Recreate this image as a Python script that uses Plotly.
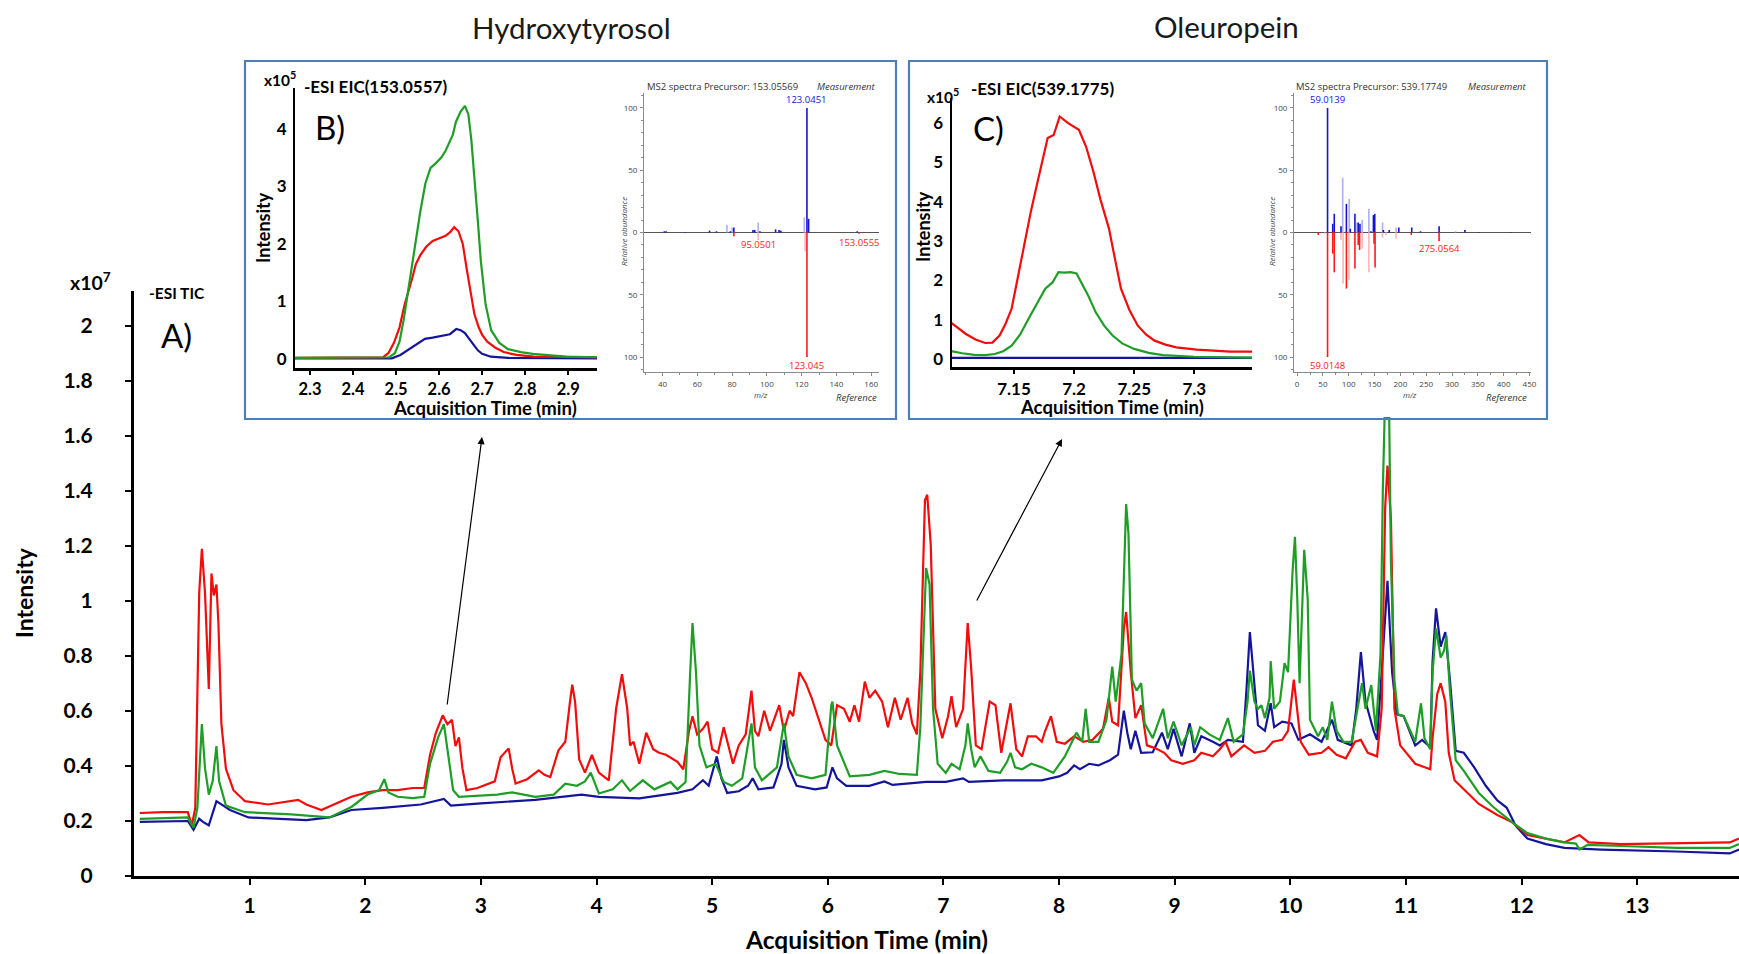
import plotly.graph_objects as go

W, H = 1739, 954
def fx(p): return p / W
def fy(p): return 1 - p / H

# ---------------- Main TIC (x10^7) ----------------
red_t = [0.05,0.25,0.465,0.50,0.53,0.564,0.587,0.614,0.647,0.67,0.69,0.713,0.73,0.756,0.795,0.86,0.96,1.16,1.42,1.49,1.62,1.75,1.88,2.02,2.15,2.28,2.41,2.51,2.56,2.61,2.67,2.71,2.75,2.78,2.81,2.84,2.875,2.97,3.07,3.12,3.17,3.24,3.27,3.30,3.40,3.50,3.55,3.60,3.67,3.73,3.77,3.79,3.815,3.85,3.90,3.96,4.02,4.106,4.17,4.22,4.265,4.29,4.32,4.37,4.43,4.49,4.54,4.60,4.70,4.75,4.80,4.83,4.87,4.92,4.96,5.00,5.05,5.10,5.18,5.23,5.29,5.34,5.37,5.40,5.45,5.50,5.58,5.62,5.67,5.70,5.755,5.81,5.86,5.93,5.98,6.03,6.08,6.14,6.19,6.23,6.27,6.32,6.36,6.41,6.47,6.52,6.58,6.63,6.69,6.73,6.77,6.80,6.84,6.86,6.89,6.93,6.99,7.04,7.07,7.11,7.17,7.21,7.24,7.28,7.33,7.40,7.45,7.50,7.58,7.63,7.68,7.73,7.80,7.85,7.88,7.93,7.98,8.05,8.13,8.21,8.29,8.38,8.43,8.46,8.51,8.56,8.58,8.62,8.66,8.71,8.76,8.83,8.91,8.97,9.07,9.17,9.23,9.33,9.39,9.44,9.49,9.60,9.69,9.78,9.85,9.93,9.98,10.03,10.06,10.09,10.16,10.27,10.33,10.40,10.48,10.56,10.61,10.67,10.75,10.79,10.82,10.84,10.87,10.90,10.95,11.08,11.21,11.23,11.27,11.30,11.34,11.37,11.42,11.50,11.63,11.79,11.92,12.05,12.21,12.37,12.50,12.58,12.86,13.34,13.80,13.88]
red_v = [0.229,0.232,0.232,0.184,0.248,1.03,1.19,1.03,0.68,1.10,1.02,1.06,0.92,0.552,0.39,0.312,0.272,0.26,0.277,0.26,0.24,0.264,0.288,0.304,0.312,0.312,0.32,0.32,0.44,0.52,0.584,0.552,0.568,0.472,0.504,0.392,0.312,0.32,0.336,0.344,0.432,0.464,0.392,0.336,0.352,0.384,0.368,0.36,0.456,0.488,0.632,0.696,0.632,0.424,0.376,0.44,0.376,0.348,0.61,0.734,0.61,0.475,0.488,0.408,0.521,0.461,0.448,0.441,0.415,0.388,0.528,0.581,0.515,0.535,0.561,0.461,0.448,0.541,0.408,0.475,0.515,0.674,0.528,0.508,0.601,0.528,0.621,0.528,0.601,0.581,0.741,0.701,0.648,0.555,0.495,0.475,0.621,0.608,0.561,0.621,0.561,0.707,0.648,0.674,0.634,0.541,0.648,0.568,0.648,0.555,0.515,0.741,1.366,1.386,1.206,0.608,0.501,0.581,0.654,0.541,0.608,0.92,0.754,0.475,0.461,0.634,0.621,0.448,0.628,0.461,0.435,0.508,0.508,0.488,0.528,0.581,0.488,0.481,0.508,0.488,0.495,0.535,0.648,0.561,0.548,0.90,0.96,0.741,0.574,0.621,0.475,0.465,0.448,0.421,0.408,0.421,0.448,0.435,0.461,0.488,0.435,0.475,0.448,0.455,0.488,0.495,0.528,0.714,0.608,0.488,0.441,0.448,0.468,0.441,0.428,0.488,0.495,0.448,0.435,0.608,1.339,1.492,1.299,0.608,0.475,0.408,0.388,0.501,0.661,0.701,0.634,0.448,0.348,0.315,0.262,0.222,0.195,0.149,0.136,0.122,0.149,0.122,0.116,0.118,0.122,0.136]

green_t = [0.05,0.25,0.465,0.515,0.548,0.587,0.614,0.647,0.68,0.713,0.736,0.795,0.96,1.36,1.69,1.88,2.02,2.12,2.165,2.20,2.28,2.41,2.51,2.56,2.63,2.68,2.72,2.76,2.81,3.14,3.27,3.47,3.63,3.73,3.83,3.90,3.95,4.02,4.14,4.22,4.29,4.40,4.50,4.57,4.64,4.70,4.77,4.81,4.83,4.86,4.89,4.95,5.03,5.10,5.17,5.26,5.31,5.34,5.37,5.43,5.56,5.62,5.66,5.73,5.86,5.98,6.03,6.04,6.08,6.13,6.19,6.36,6.49,6.62,6.77,6.80,6.83,6.85,6.88,6.91,6.95,7.02,7.07,7.14,7.19,7.21,7.24,7.27,7.32,7.39,7.49,7.55,7.58,7.62,7.68,7.76,7.85,7.95,8.05,8.15,8.20,8.23,8.26,8.34,8.41,8.46,8.49,8.54,8.58,8.60,8.63,8.67,8.71,8.74,8.81,8.90,8.94,8.99,9.06,9.14,9.17,9.22,9.30,9.39,9.46,9.51,9.59,9.63,9.65,9.69,9.72,9.75,9.78,9.82,9.83,9.86,9.91,9.95,9.98,10.02,10.04,10.06,10.08,10.10,10.12,10.15,10.17,10.24,10.28,10.32,10.36,10.40,10.46,10.53,10.57,10.62,10.65,10.70,10.74,10.78,10.80,10.815,10.855,10.87,10.90,10.93,10.98,11.05,11.08,11.13,11.16,11.21,11.23,11.26,11.30,11.33,11.35,11.38,11.43,11.50,11.63,11.76,11.84,11.92,12.05,12.21,12.37,12.47,12.50,12.57,12.86,13.34,13.80,13.88]
green_v = [0.208,0.21,0.213,0.176,0.248,0.552,0.392,0.296,0.344,0.472,0.344,0.256,0.232,0.224,0.213,0.251,0.296,0.312,0.352,0.304,0.288,0.283,0.288,0.408,0.504,0.552,0.424,0.312,0.288,0.296,0.304,0.288,0.296,0.336,0.328,0.344,0.376,0.30,0.315,0.348,0.309,0.348,0.315,0.328,0.342,0.315,0.342,0.741,0.92,0.741,0.475,0.395,0.408,0.342,0.328,0.355,0.475,0.555,0.395,0.348,0.395,0.555,0.435,0.368,0.355,0.368,0.621,0.634,0.475,0.421,0.362,0.368,0.382,0.371,0.368,0.541,0.874,1.12,1.06,0.608,0.408,0.375,0.408,0.388,0.475,0.555,0.461,0.395,0.435,0.382,0.375,0.415,0.448,0.395,0.388,0.408,0.395,0.375,0.435,0.521,0.488,0.608,0.488,0.488,0.568,0.761,0.634,0.807,1.352,1.246,0.714,0.674,0.701,0.555,0.501,0.608,0.501,0.561,0.475,0.541,0.475,0.541,0.515,0.495,0.574,0.488,0.515,0.634,0.747,0.634,0.608,0.621,0.574,0.648,0.781,0.608,0.634,0.774,0.741,1.113,1.233,1.007,0.701,0.94,1.186,1.007,0.568,0.508,0.541,0.495,0.634,0.528,0.488,0.488,0.581,0.701,0.608,0.694,0.528,0.807,1.406,1.665,1.665,1.14,0.714,0.588,0.581,0.515,0.488,0.628,0.501,0.461,0.741,0.90,0.794,0.82,0.874,0.674,0.421,0.382,0.302,0.249,0.222,0.195,0.156,0.136,0.122,0.118,0.096,0.113,0.109,0.102,0.102,0.116]

blue_t = [0.05,0.465,0.515,0.564,0.597,0.647,0.713,0.83,0.99,1.49,1.69,1.88,2.15,2.48,2.68,2.74,3.00,3.47,3.87,4.02,4.37,4.70,4.83,4.92,4.97,5.04,5.08,5.13,5.23,5.31,5.35,5.40,5.53,5.60,5.62,5.66,5.73,5.89,5.99,6.04,6.08,6.16,6.36,6.49,6.56,6.85,7.02,7.17,7.22,7.52,7.85,8.00,8.07,8.13,8.18,8.26,8.34,8.44,8.51,8.56,8.59,8.62,8.66,8.71,8.81,8.89,8.94,8.99,9.06,9.13,9.17,9.23,9.33,9.39,9.46,9.59,9.62,9.65,9.68,9.72,9.78,9.83,9.86,9.93,10.01,10.07,10.17,10.27,10.36,10.41,10.53,10.57,10.61,10.65,10.72,10.75,10.79,10.84,10.88,10.92,10.98,11.08,11.14,11.21,11.23,11.26,11.30,11.34,11.38,11.43,11.50,11.59,11.69,11.79,11.87,11.95,12.05,12.21,12.37,12.69,13.34,13.80,13.88]
blue_v = [0.197,0.20,0.168,0.208,0.197,0.184,0.272,0.24,0.213,0.203,0.213,0.24,0.248,0.26,0.28,0.256,0.264,0.277,0.296,0.288,0.282,0.302,0.315,0.348,0.328,0.435,0.355,0.302,0.308,0.328,0.355,0.315,0.322,0.408,0.495,0.395,0.328,0.315,0.322,0.395,0.355,0.328,0.328,0.344,0.331,0.342,0.342,0.355,0.342,0.348,0.348,0.362,0.375,0.402,0.388,0.408,0.402,0.421,0.441,0.601,0.521,0.461,0.528,0.448,0.45,0.521,0.461,0.535,0.435,0.555,0.448,0.508,0.488,0.475,0.495,0.488,0.674,0.887,0.741,0.548,0.528,0.628,0.541,0.561,0.555,0.495,0.515,0.488,0.568,0.495,0.475,0.608,0.814,0.634,0.528,0.495,0.741,1.073,0.741,0.588,0.581,0.475,0.495,0.468,0.781,0.973,0.834,0.887,0.714,0.455,0.448,0.395,0.328,0.275,0.249,0.182,0.136,0.116,0.102,0.096,0.089,0.082,0.096]

main_xticks = [1,2,3,4,5,6,7,8,9,10,11,12,13]
main_yticks = [0,0.2,0.4,0.6,0.8,1,1.2,1.4,1.6,1.8,2]
main_ylabels = ["0","0.2","0.4","0.6","0.8","1","1.2","1.4","1.6","1.8","2"]

# ---------------- Inset B: EIC 153.0557 (x10^5) ----------------
b_green_t = [2.265,2.40,2.484,2.497,2.508,2.518,2.527,2.541,2.556,2.568,2.58,2.592,2.605,2.615,2.624,2.632,2.639,2.65,2.66,2.668,2.675,2.682,2.69,2.697,2.708,2.721,2.74,2.76,2.79,2.818,2.895,2.967]
b_green_v = [0.02,0.02,0.03,0.1,0.3,0.7,1.15,1.85,2.55,3.05,3.32,3.4,3.5,3.62,3.78,3.9,4.12,4.3,4.4,4.25,3.8,3.2,2.4,1.7,0.95,0.5,0.28,0.17,0.12,0.09,0.04,0.03]
b_red_t = [2.265,2.47,2.482,2.495,2.508,2.52,2.537,2.546,2.556,2.57,2.585,2.60,2.615,2.625,2.635,2.645,2.655,2.664,2.673,2.682,2.692,2.70,2.712,2.73,2.75,2.78,2.82,2.967]
b_red_v = [0.02,0.03,0.1,0.28,0.55,0.95,1.39,1.65,1.8,1.95,2.05,2.1,2.14,2.2,2.29,2.22,2.0,1.57,1.15,0.78,0.55,0.42,0.3,0.2,0.12,0.07,0.04,0.03]
b_blue_t = [2.265,2.49,2.51,2.53,2.55,2.567,2.585,2.605,2.625,2.64,2.65,2.66,2.67,2.68,2.69,2.70,2.72,2.76,2.967]
b_blue_v = [0.01,0.01,0.07,0.17,0.27,0.35,0.37,0.4,0.43,0.52,0.5,0.45,0.36,0.25,0.15,0.09,0.04,0.02,0.01]
b_xticks = [2.3,2.4,2.5,2.6,2.7,2.8,2.9]
b_yticks = [0,1,2,3,4]

# ---------------- Inset C: EIC 539.1775 (x10^5) ----------------
c_red_t = [7.097,7.104,7.11,7.118,7.126,7.132,7.138,7.143,7.148,7.153,7.159,7.164,7.169,7.174,7.178,7.183,7.188,7.195,7.204,7.21,7.216,7.222,7.229,7.234,7.239,7.246,7.253,7.26,7.267,7.276,7.285,7.302,7.33,7.348]
c_red_v = [0.94,0.78,0.64,0.5,0.41,0.42,0.6,0.9,1.28,2.05,2.98,3.75,4.43,5.05,5.62,5.7,6.17,6.0,5.83,5.4,4.77,4.05,3.32,2.55,1.79,1.25,0.85,0.62,0.47,0.37,0.3,0.24,0.19,0.19]
c_green_t = [7.097,7.107,7.117,7.126,7.134,7.141,7.148,7.155,7.162,7.169,7.176,7.182,7.187,7.192,7.197,7.202,7.206,7.212,7.218,7.225,7.232,7.24,7.25,7.262,7.274,7.3,7.348]
c_green_v = [0.21,0.15,0.11,0.1,0.13,0.2,0.34,0.62,1.02,1.42,1.79,1.95,2.21,2.2,2.21,2.18,1.96,1.6,1.19,0.85,0.6,0.4,0.26,0.16,0.1,0.06,0.04]
c_blue_t = [7.097,7.348]
c_blue_v = [0.03,0.03]
c_xticks = [7.15,7.2,7.25,7.3]
c_xlabels = ["7.15","7.2","7.25","7.3"]
c_yticks = [0,1,2,3,4,5,6]

# ---------------- MS2 spectra ----------------
# Hydroxytyrosol, precursor 153.05569
b_meas_mz = [41,42,53,67,71,79,81,92,93,96,105,107,108,124,123.045,152]
b_meas_ab = [1,1,0.5,1.5,1,1,4,2,2,1,2.5,2,1.5,11,100,1]
b_meas_light_mz = [77,80,95,121.5]
b_meas_light_ab = [6,4,8,12]
b_ref_mz = [81,123.045,153]
b_ref_ab = [-3,-100,-1]
b_ref_light_mz = [95,122]
b_ref_light_ab = [-6,-15]

# Oleuropein, precursor 539.17749
c_meas_mz = [59,69,72,85,95.5,103,112,118.4,121.7,143,147.8,150.4,167,178.5,197,222,239,275,325,352,414]
c_meas_ab = [100,7,15,5,23,3,15,8,7,1,14,15,2,2,4,4,1,5,2,0.5,0.5]
c_meas_light_mz = [88.3,101,116,126,139,165.5,191.6,307]
c_meas_light_ab = [44,27,8,10,19,8,4,1]
c_ref_mz = [41,59,69,72,95.5,112,118.4,121,149,151,221,275]
c_ref_ab = [-2,-100,-17,-32,-45,-29,-10,-14,-9,-28,-2,-7]
c_ref_light_mz = [54,85,89,100.5,126,139,165.5,172,191.6]
c_ref_light_ab = [-1,-6,-41,-38,-13,-32,-4,-2,-5]

ms_yticks = [-100,-50,0,50,100]
ms_ylabels = ["100","50","0","50","100"]
b_ms_xticks = [40,60,80,100,120,140,160]
c_ms_xticks = [0,50,100,150,200,250,300,350,400,450]

RED = "#f20c0c"
GREEN = "#1f9e27"
BLUE = "#15159c"
MS_BLUE = "#1414d2"
MS_BLUE_L = "#aab0f2"
MS_RED = "#ff1a1a"
MS_RED_L = "#ffb4b4"
FONT = "Lato"
SFONT = "Open Sans"

def sticks(mz, ab):
    xs, ys = [], []
    for m, a in zip(mz, ab):
        xs += [m, m, None]
        ys += [0, a, None]
    return xs, ys

fig = go.Figure()

def line(x, y, color, xa, ya, w=2.2):
    fig.add_trace(go.Scatter(x=x, y=y, mode="lines", line=dict(color=color, width=w),
                             xaxis=xa, yaxis=ya, showlegend=False, hoverinfo="skip"))

# main
line(blue_t, blue_v, BLUE, "x", "y")
line(red_t, red_v, RED, "x", "y")
line(green_t, green_v, GREEN, "x", "y")
# B
line(b_blue_t, b_blue_v, BLUE, "x2", "y2")
line(b_red_t, b_red_v, RED, "x2", "y2")
line(b_green_t, b_green_v, GREEN, "x2", "y2")
# C
line(c_blue_t, c_blue_v, BLUE, "x3", "y3")
line(c_green_t, c_green_v, GREEN, "x3", "y3")
line(c_red_t, c_red_v, RED, "x3", "y3")
# MS2
for (mz, ab, col, xa, ya) in [
    (b_meas_light_mz, b_meas_light_ab, MS_BLUE_L, "x4", "y4"),
    (b_ref_light_mz, b_ref_light_ab, MS_RED_L, "x4", "y4"),
    (b_meas_mz, b_meas_ab, MS_BLUE, "x4", "y4"),
    (b_ref_mz, b_ref_ab, MS_RED, "x4", "y4"),
    (c_meas_light_mz, c_meas_light_ab, MS_BLUE_L, "x5", "y5"),
    (c_ref_light_mz, c_ref_light_ab, MS_RED_L, "x5", "y5"),
    (c_meas_mz, c_meas_ab, MS_BLUE, "x5", "y5"),
    (c_ref_mz, c_ref_ab, MS_RED, "x5", "y5"),
]:
    xs, ys = sticks(mz, ab)
    line(xs, ys, col, xa, ya, w=1.6)

bold = dict(family=FONT, color="black", weight="bold")

def eic_axes(xdom, ydom, xr, yr, xt, xl, yt, xfs, standoff_x):
    xa = dict(domain=xdom, range=xr, tickvals=xt, ticktext=xl, showline=True, linecolor="black",
              linewidth=2.5, ticks="outside", ticklen=4, tickwidth=1.5, tickcolor="black",
              tickfont=dict(size=xfs, **bold), showgrid=False, zeroline=False, ticklabelstandoff=standoff_x)
    ya = dict(domain=ydom, range=yr, tickvals=yt, ticktext=[str(v) for v in yt], showline=True,
              linecolor="black", linewidth=2, ticks="", tickfont=dict(size=17, **bold),
              showgrid=False, zeroline=False, ticklabelstandoff=3)
    return xa, ya

x2, y2 = eic_axes([fx(295), fx(597)], [fy(368), fy(88)], [2.265, 2.967], [-0.157, 4.71],
                  b_xticks, [str(v) for v in b_xticks], b_yticks, 16.5, 0)
x3, y3 = eic_axes([fx(951.5), fx(1252)], [fy(367), fy(98)], [7.098, 7.348], [-0.2, 6.64],
                  c_xticks, c_xlabels, c_yticks, 17, 1)

def ms_axes(xdom, xr, xt, minor_dt):
    xa = dict(domain=xdom, range=xr, tickvals=xt, ticktext=[str(v) for v in xt], showline=True,
              linecolor="#8a8a8a", linewidth=1, ticks="outside", ticklen=3, tickcolor="#8a8a8a",
              tickfont=dict(size=8, family=SFONT, color="#444"), showgrid=False, zeroline=False,
              minor=dict(dtick=minor_dt, ticks="outside", ticklen=2, tickcolor="#8a8a8a"),
              ticklabelstandoff=1)
    ya = dict(domain=[fy(372), fy(93)], range=[-112, 112], tickvals=ms_yticks, ticktext=ms_ylabels,
              showline=True, linecolor="#8a8a8a", linewidth=1, ticks="outside", ticklen=3,
              tickcolor="#8a8a8a", tickfont=dict(size=8, family=SFONT, color="#444"), showgrid=False,
              zeroline=True, zerolinecolor="#555", zerolinewidth=1.2,
              minor=dict(dtick=10, ticks="outside", ticklen=2, tickcolor="#8a8a8a"), ticklabelstandoff=1)
    return xa, ya

x4, y4 = ms_axes([fx(644), fx(879)], [29.3, 164.5], b_ms_xticks, 10)
x5, y5 = ms_axes([fx(1294), fx(1531)], [-6, 453], c_ms_xticks, 25)

x2.update(anchor="y2"); y2.update(anchor="x2")
x3.update(anchor="y3"); y3.update(anchor="x3")
x4.update(anchor="y4"); y4.update(anchor="x4")
x5.update(anchor="y5"); y5.update(anchor="x5")

fig.update_layout(
    template="none",
    width=W, height=H, margin=dict(l=0, r=0, t=0, b=0),
    paper_bgcolor="white", plot_bgcolor="white",
    font=dict(family=FONT, color="black"),
    xaxis=dict(domain=[fx(134), 1], range=[0, 13.88], tickvals=main_xticks,
               ticktext=[str(v) for v in main_xticks], showline=True, linecolor="black", linewidth=3,
               ticks="outside", ticklen=6, tickwidth=2, tickcolor="black",
               tickfont=dict(size=21, **bold), showgrid=False, zeroline=False, ticklabelstandoff=3),
    yaxis=dict(domain=[fy(876), fy(291)], range=[0, 2.127], tickvals=main_yticks, ticktext=main_ylabels,
               showline=True, linecolor="black", linewidth=3, ticks="outside", ticklen=6, tickwidth=2,
               tickcolor="black", tickfont=dict(size=21, **bold), showgrid=False, zeroline=False,
               ticklabelstandoff=28),
    xaxis2=x2, yaxis2=y2, xaxis3=x3, yaxis3=y3, xaxis4=x4, yaxis4=y4, xaxis5=x5, yaxis5=y5,
)

shapes = []
for xa in ["x4", "x5"]:
    shapes.append(dict(type="rect", xref=f"{xa} domain", yref=f"y{xa[1]} domain", x0=0, x1=1, y0=0, y1=1,
                       fillcolor="#f1f1f1", line=dict(width=0), layer="below"))
for (l, r) in [(245, 896), (909, 1547)]:
    shapes.append(dict(type="rect", xref="paper", yref="paper", x0=fx(l), x1=fx(r), y0=fy(419), y1=fy(61),
                       line=dict(color="#4d7fb8", width=2.2), fillcolor="rgba(0,0,0,0)", layer="above"))
fig.update_layout(shapes=shapes)

ann = []
def txt(text, x, y, size, xanchor="center", yanchor="middle", color="black", weight="normal",
        family=FONT, angle=0, style="normal"):
    ann.append(dict(text=text, x=fx(x), y=fy(y), xref="paper", yref="paper", showarrow=False,
                    xanchor=xanchor, yanchor=yanchor, textangle=angle,
                    font=dict(size=size, color=color, weight=weight, family=family, style=style)))

txt("Hydroxytyrosol", 571, 28, 29.5, color="#1a1a1a")
txt("Oleuropein", 1226, 26, 29.5, color="#1a1a1a")
# main
txt("x10<sup>7</sup>", 90, 281, 19.5, weight="bold")
txt("-ESI TIC", 147, 293, 15.5, xanchor="left", weight="bold")
txt("A)", 176, 335, 33)
txt("Intensity", 24, 593, 23, weight="bold", angle=-90)
txt("Acquisition Time (min)", 866, 939, 24.5, weight="bold")
# B
txt("x10<sup>5</sup>", 280, 79, 15.5, weight="bold")
txt("-ESI EIC(153.0557)", 302, 87, 17, xanchor="left", weight="bold")
txt("B)", 330, 127, 33)
txt("Intensity", 263, 228, 18, weight="bold", angle=-90)
txt("Acquisition Time (min)", 485, 408, 18.5, weight="bold")
# C
txt("x10<sup>5</sup>", 943, 95, 15.5, weight="bold")
txt("-ESI EIC(539.1775)", 969, 88, 17, xanchor="left", weight="bold")
txt("C)", 988, 128, 33)
txt("Intensity", 923, 227, 18, weight="bold", angle=-90)
txt("Acquisition Time (min)", 1112, 407, 18.5, weight="bold")
# MS2 B
txt("MS2 spectra Precursor: 153.05569", 645, 87, 9.5, xanchor="left", family=SFONT, color="#333")
txt("Measurement", 878, 87, 9.5, xanchor="right", family=SFONT, color="#333", style="italic")
txt("m/z", 761, 395, 8, family=SFONT, color="#444", style="italic")
txt("Reference", 879, 397, 9.5, xanchor="right", family=SFONT, color="#333", style="italic")
txt("Relative abundance", 623, 232, 8, family=SFONT, color="#444", angle=-90, style="italic")
# MS2 C
txt("MS2 spectra Precursor: 539.17749", 1294, 87, 9.5, xanchor="left", family=SFONT, color="#333")
txt("Measurement", 1529, 87, 9.5, xanchor="right", family=SFONT, color="#333", style="italic")
txt("m/z", 1410, 395, 8, family=SFONT, color="#444", style="italic")
txt("Reference", 1529, 397, 9.5, xanchor="right", family=SFONT, color="#333", style="italic")
txt("Relative abundance", 1271, 232, 8, family=SFONT, color="#444", angle=-90, style="italic")

def peak_label(text, mz, ab, xa, ya, color, yanchor):
    ann.append(dict(text=text, x=mz, y=ab, xref=xa, yref=ya, showarrow=False, xanchor="center",
                    yanchor=yanchor, font=dict(size=9.5, family=SFONT, color=color)))

peak_label("123.0451", 123.045, 100, "x4", "y4", MS_BLUE, "bottom")
peak_label("123.045", 123.045, -100, "x4", "y4", MS_RED, "top")
peak_label("95.0501", 95.05, -3, "x4", "y4", MS_RED, "top")
peak_label("153.0555", 153.0, -1, "x4", "y4", MS_RED, "top")
peak_label("59.0139", 59.0, 100, "x5", "y5", MS_BLUE, "bottom")
peak_label("59.0148", 59.0, -100, "x5", "y5", MS_RED, "top")
peak_label("275.0564", 275.0, -6, "x5", "y5", MS_RED, "top")

# arrows from main chromatogram to insets
for (hx, hy, tx, ty) in [(482, 437, 447, 706), (1062, 439, 976, 602)]:
    ann.append(dict(x=fx(hx), y=fy(hy), xref="paper", yref="paper", ax=tx - hx, ay=ty - hy,
                    axref="pixel", ayref="pixel", showarrow=True, arrowhead=2, arrowsize=1.2,
                    arrowwidth=1.2, arrowcolor="black", text=""))

fig.update_layout(annotations=ann)
fig.write_html("out.html")
